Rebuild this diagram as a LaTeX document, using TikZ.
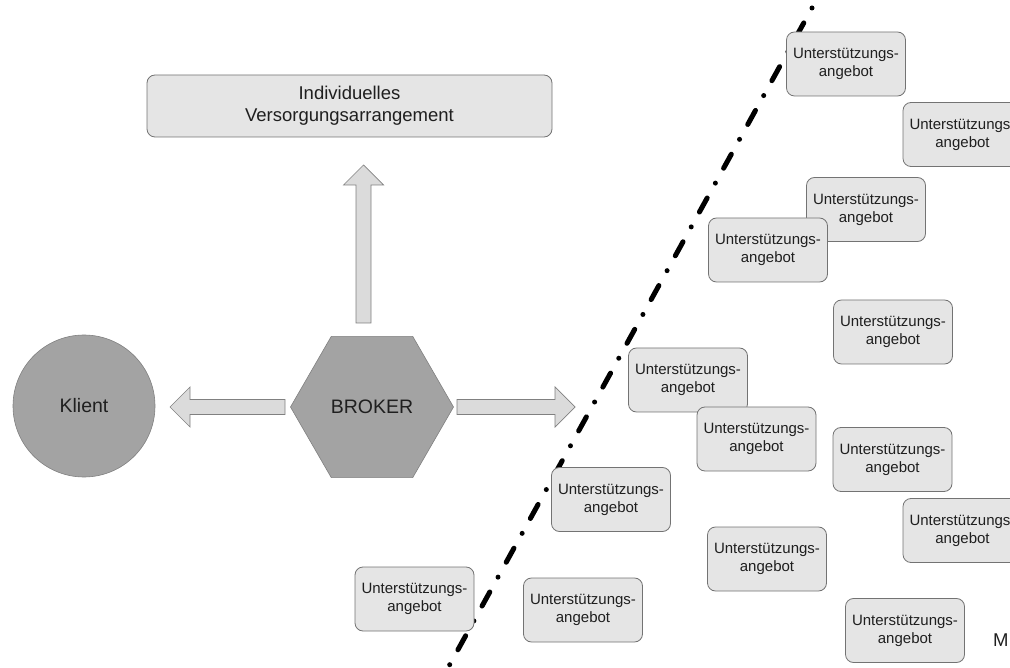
\documentclass[tikz,border=0pt]{standalone}
\usepackage{fontspec}
\setmainfont{Liberation Sans}
\usetikzlibrary{shapes.geometric}
\definecolor{boxfill}{gray}{0.9}
\definecolor{boxedge}{gray}{0.45}
\definecolor{darkfill}{gray}{0.64}
\definecolor{darkedge}{gray}{0.5}
\definecolor{arrfill}{gray}{0.86}
\definecolor{arredge}{gray}{0.5}
\definecolor{txt}{gray}{0.12}
\tikzset{
  ubox/.style={draw=boxedge, line width=0.8pt, fill=boxfill, rounded corners=8pt,
    minimum width=119pt, minimum height=64pt, inner sep=0pt, align=center,
    text=txt, font=\fontsize{15}{18}\selectfont},
  topbox/.style={ubox, minimum width=405pt, minimum height=62pt,
    font=\fontsize{18.5}{22}\selectfont},
  klientnode/.style={circle, draw=darkedge, line width=0.6pt, fill=darkfill,
    minimum size=142pt, inner sep=0pt, text=txt, font=\fontsize{19.5}{22}\selectfont},
  brokernode/.style={regular polygon, regular polygon sides=6, draw=darkedge,
    line width=0.6pt, fill=darkfill, minimum size=163pt, inner sep=0pt,
    text=txt, font=\fontsize{19.5}{22}\selectfont},
  arrowbody/.style={draw=arredge, line width=0.7pt, fill=arrfill},
  dashdot/.style={line width=5pt, line cap=round, draw=black,
    dash pattern=on 0pt off 17pt on 16pt off 17pt},
  pics/fatarrow/.style={code={
    \path[arrowbody] (0,-7.5) -- ({#1-20},-7.5) -- ({#1-20},-20) -- (#1,0)
      -- ({#1-20},20) -- ({#1-20},7.5) -- (0,7.5) -- cycle;}}
}
\begin{document}
\begin{tikzpicture}[x=1pt,y=-1pt]
\useasboundingbox (0,0) rectangle (1010,668);
\clip (0,0) rectangle (1010,668);

% dividing dash-dot line
\coordinate (ltop) at (812,8);
\coordinate (lbot) at (444,675);
\draw[dashdot] (ltop) -- (lbot);

% main nodes
\node[topbox] (arr) at (349.5,106) {Individuelles\\Versorgungsarrangement};
\node[klientnode] (klient) at (84,406) {Klient};
\node[brokernode] (broker) at (372,407) {BROKER};

% block arrows
\coordinate (upS) at (363.5,323);
\coordinate (leftS) at (285,407);
\coordinate (rightS) at (457,407);
\pic[rotate=90] at (upS) {fatarrow=158};
\pic[rotate=180] at (leftS) {fatarrow=115};
\pic at (rightS) {fatarrow=118};

% support offers
\node[ubox] (u1) at (846,64) {Unterstützungs-\\angebot};
\node[ubox] (u2) at (962.5,134.5) {Unterstützungs-\\angebot};
\node[ubox] (u3) at (866,209.5) {Unterstützungs-\\angebot};
\node[ubox] (u4) at (768,250) {Unterstützungs-\\angebot};
\node[ubox] (u5) at (893,332) {Unterstützungs-\\angebot};
\node[ubox] (u6) at (688,380) {Unterstützungs-\\angebot};
\node[ubox] (u7) at (756.5,439) {Unterstützungs-\\angebot};
\node[ubox] (u8) at (892.5,459.5) {Unterstützungs-\\angebot};
\node[ubox] (u9) at (611,499.5) {Unterstützungs-\\angebot};
\node[ubox] (u10) at (962.5,530.5) {Unterstützungs-\\angebot};
\node[ubox] (u11) at (767,559) {Unterstützungs-\\angebot};
\node[ubox] (u12) at (414.5,599) {Unterstützungs-\\angebot};
\node[ubox] (u13) at (583,610) {Unterstützungs-\\angebot};
\node[ubox] (u14) at (905,630.5) {Unterstützungs-\\angebot};

\node[anchor=west, inner sep=0pt, text=txt, font=\fontsize{18.5}{22}\selectfont] (m) at (993,640) {M};
\end{tikzpicture}
\end{document}
